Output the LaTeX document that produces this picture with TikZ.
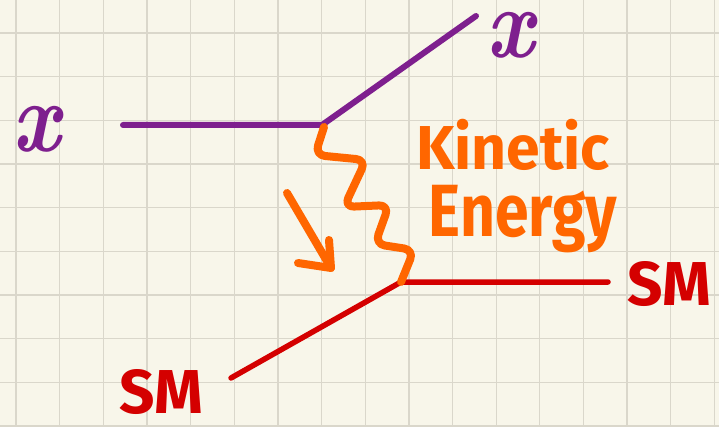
\documentclass[tikz,border=0pt]{standalone}
\usepackage{fontspec}
\newfontfamily\handfont{Fira Sans}
\definecolor{bg}{RGB}{248,246,234}
\definecolor{gridc}{RGB}{218,215,203}
\definecolor{pur}{RGB}{126,31,142}
\definecolor{org}{RGB}{255,102,0}
\definecolor{smred}{RGB}{212,0,0}
\tikzset{
  gridline/.style={gridc, line width=1.3pt},
  purline/.style={pur, line width=6pt},
  redline/.style={smred, line width=5.5pt},
  orgline/.style={org, line width=8pt},
  xlabel/.style={pur, inner sep=0pt, font=\fontsize{100}{100}\selectfont\bfseries\itshape, xscale=0.85},
  smlabel/.style={smred, inner sep=0pt, font=\fontsize{62}{62}\handfont\bfseries},
  kelabel/.style={org, inner sep=0pt, anchor=base},
}
\begin{document}
\begin{tikzpicture}[x=1pt,y=-1pt, line cap=round, line join=round]
\fill[bg] (0,0) rectangle (719,427);
\useasboundingbox (0,0) rectangle (719,427);
\foreach \i in {0,...,16} \draw[gridline] ({16+43.65*\i},0) -- ({16+43.65*\i},427);
\foreach \j in {0,...,9} \draw[gridline] (0,{33+43.65*\j}) -- (719,{33+43.65*\j});

% vertices and free ends
\coordinate (xin) at (123,125);
\coordinate (v1) at (322,125);
\coordinate (xout) at (476,16);
\coordinate (v2) at (401,282);
\coordinate (smout) at (608,282);
\coordinate (smin) at (231,378);

% labels
\node[xlabel] (xl) at (36,129) {x};
\node[xlabel] (xr) at (510,35) {x};
\node[smlabel] (smr) at (669,284) {SM};
\node[smlabel] (sml) at (161,392) {SM};
\node[kelabel, font=\fontsize{62}{62}\handfont\bfseries, xscale=0.98] (ke1) at (513,170) {Kinetic};
\node[kelabel, font=\fontsize{74}{74}\handfont\bfseries, xscale=0.82] (ke2) at (523,237) {Energy};

% purple lines
\draw[purline] (xin) -- (v1) -- (xout);
% red lines
\draw[redline] (smin) -- (v2) -- (smout);
% wavy mediator
\draw[orgline, rounded corners=10pt] (324,127) -- (315,155) -- (366,160) -- (344,207) -- (389,205) -- (375,244) -- (414,250) -- (v2);
% arrow
\coordinate (atail) at (287,193);
\coordinate (atip) at (331,268);
\coordinate (ab1) at (329,240);
\coordinate (ab2) at (298,263);
\draw[orgline] (atail) -- (atip);
\draw[orgline] (ab1) -- (atip) -- (ab2);
\end{tikzpicture}
\end{document}
